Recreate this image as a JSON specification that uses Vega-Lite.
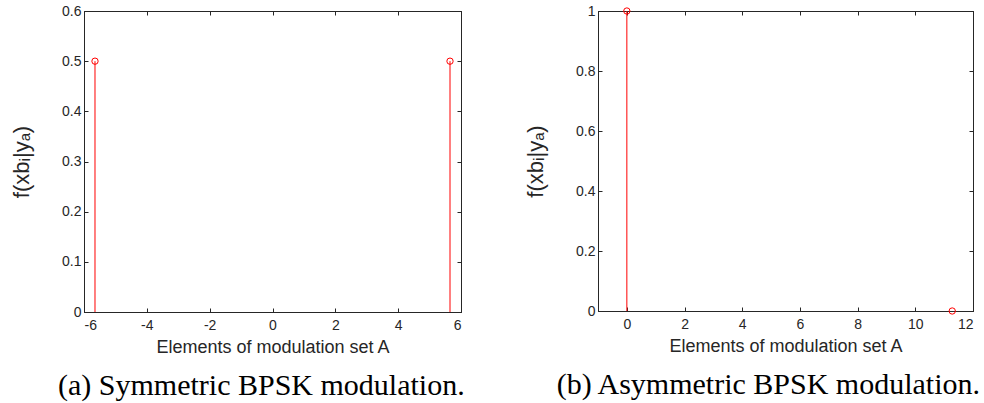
{
  "$schema": "https://vega.github.io/schema/vega-lite/v6.json",
  "background": "white",
  "padding": {"left": 10, "top": 3, "right": 2, "bottom": 0},
  "bounds": "flush",
  "spacing": 137,
  "config": {
    "view": {"stroke": "#262626", "strokeWidth": 1},
    "axis": {
      "domainColor": "#262626", "tickColor": "#262626", "labelColor": "#262626", "titleColor": "#262626",
      "labelFont": "Liberation Sans", "titleFont": "Liberation Sans",
      "labelFontSize": 14, "titleFontSize": 18, "titleFontWeight": "normal",
      "grid": false, "tickSize": -4, "domainWidth": 1, "tickWidth": 1
    },
    "title": {"font": "Liberation Serif", "fontSize": 30, "fontWeight": "normal", "color": "black", "orient": "bottom", "offset": 15, "frame": "group"}
  },
  "hconcat": [
    {
      "width": 377, "height": 301,
      "title": {"text": "(a) Symmetric BPSK modulation.", "anchor": "start", "dx": -26},
      "data": {"values": [{"x": -5.65, "y": 0.5}, {"x": 5.65, "y": 0.5}]},
      "layer": [
        {
          "mark": {"type": "rule", "color": "#ff0000", "strokeWidth": 1},
          "encoding": {
            "x": {"field": "x", "type": "quantitative", "scale": {"domain": [-6, 6], "nice": false, "zero": false},
                  "axis": {"values": [-6, -4, -2, 0, 2, 4, 6], "labelExpr": "toString(datum.value)", "title": "Elements of modulation set A", "labelPadding": 10, "titlePadding": 6}},
            "y": {"field": "y", "type": "quantitative", "scale": {"domain": [0, 0.6], "nice": false},
                  "axis": {"values": [0, 0.1, 0.2, 0.3, 0.4, 0.5, 0.6], "labelExpr": "toString(datum.value)", "title": "f(xbᵢ|yₐ)", "titleFontSize": 22, "labelPadding": 7, "titlePadding": 28}},
            "y2": {"datum": 0}
          }
        },
        {
          "mark": {"type": "point", "filled": false, "color": "#ff0000", "size": 40, "strokeWidth": 1, "opacity": 1},
          "encoding": {
            "x": {"field": "x", "type": "quantitative", "axis": {"orient": "top", "labels": false, "title": null, "values": [-6, -4, -2, 0, 2, 4, 6]}},
            "y": {"field": "y", "type": "quantitative", "axis": {"orient": "right", "labels": false, "title": null, "values": [0, 0.1, 0.2, 0.3, 0.4, 0.5, 0.6]}}
          }
        }
      ],
      "resolve": {"axis": {"x": "independent", "y": "independent"}}
    },
    {
      "width": 375, "height": 300,
      "title": {"text": "(b) Asymmetric BPSK modulation.", "anchor": "end", "dx": 7},
      "data": {"values": [{"x": 0, "y": 1}, {"x": 11.28, "y": 0}]},
      "layer": [
        {
          "mark": {"type": "rule", "color": "#ff0000", "strokeWidth": 1},
          "encoding": {
            "x": {"field": "x", "type": "quantitative", "scale": {"domain": [-1, 12], "nice": false, "zero": false},
                  "axis": {"values": [0, 2, 4, 6, 8, 10, 12], "labelExpr": "toString(datum.value)", "title": "Elements of modulation set A", "labelPadding": 10, "titlePadding": 6}},
            "y": {"field": "y", "type": "quantitative", "scale": {"domain": [0, 1], "nice": false},
                  "axis": {"values": [0, 0.2, 0.4, 0.6, 0.8, 1], "labelExpr": "toString(datum.value)", "title": "f(xbᵢ|yₐ)", "titleFontSize": 22, "labelPadding": 7, "titlePadding": 28}},
            "y2": {"datum": 0}
          }
        },
        {
          "mark": {"type": "point", "filled": false, "color": "#ff0000", "size": 40, "strokeWidth": 1, "opacity": 1},
          "encoding": {
            "x": {"field": "x", "type": "quantitative", "axis": {"orient": "top", "labels": false, "title": null, "values": [0, 2, 4, 6, 8, 10, 12]}},
            "y": {"field": "y", "type": "quantitative", "axis": {"orient": "right", "labels": false, "title": null, "values": [0, 0.2, 0.4, 0.6, 0.8, 1]}}
          }
        }
      ],
      "resolve": {"axis": {"x": "independent", "y": "independent"}}
    }
  ]
}
